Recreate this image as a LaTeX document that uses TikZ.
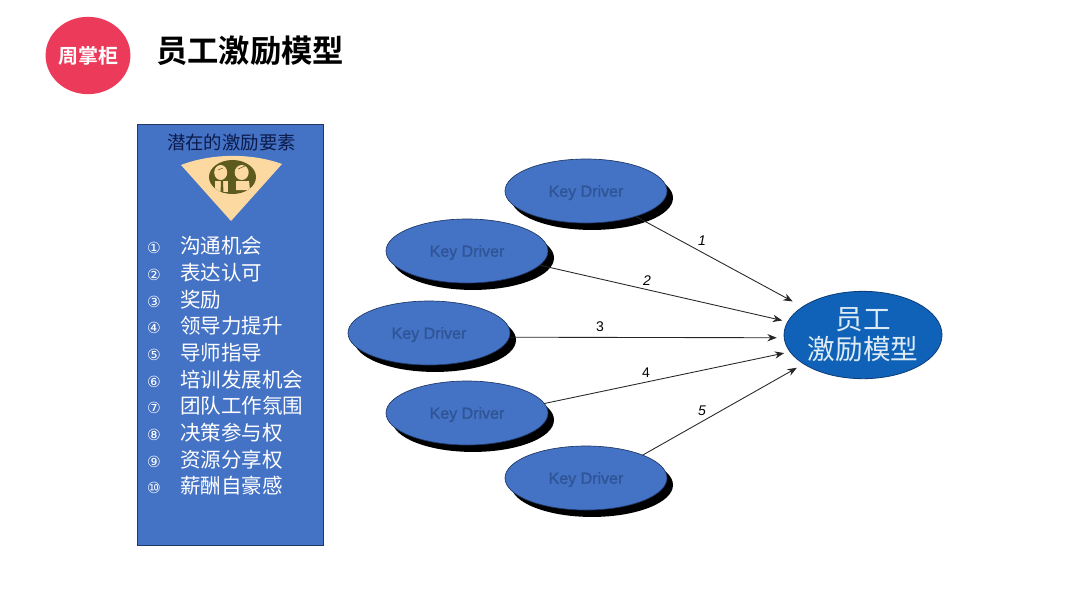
\documentclass[tikz,border=0pt]{standalone}
\usepackage{fontspec}
\setmainfont{Liberation Sans}
\newfontfamily\cjk{Noto Sans CJK SC}
\newfontfamily\cjkb{Noto Sans CJK SC}[BoldFont={Noto Sans CJK SC Bold}]
\newfontfamily\numf{DejaVu Sans}
\newfontfamily\kdfont{Liberation Sans}[FakeBold=1.2]
\usetikzlibrary{shapes.geometric,shadows,arrows.meta}
\definecolor{panelblue}{HTML}{4472C4}
\definecolor{paneledge}{HTML}{1F3864}
\definecolor{drivertext}{HTML}{2F5597}
\definecolor{hubblue}{HTML}{0F62B8}
\definecolor{hubedge}{HTML}{0B3C78}
\definecolor{hubtext}{HTML}{DDEBF5}
\definecolor{logored}{HTML}{EC3A5A}
\definecolor{fancream}{HTML}{FBD9A0}
\definecolor{fanolive}{HTML}{5C5A1E}
\definecolor{headnavy}{HTML}{0D1B4C}
\newcommand{\kd}{\raisebox{0pt}[8.6pt][0pt]{Key Driver}}
\tikzset{
  x=0.75pt,y=-0.75pt,
  driver/.style={ellipse,draw=paneledge,line width=0.5pt,fill=panelblue,minimum width=121.5pt,minimum height=48pt,inner sep=0pt,outer sep=0pt,
    text=drivertext,font=\kdfont\fontsize{12}{14}\selectfont,
    drop shadow={shadow xshift=4.5pt,shadow yshift=-5.2pt,fill=black,opacity=1}},
  link/.style={draw=black!85,line width=0.65pt,-{Stealth[length=7pt,width=5.5pt]}},
  linklabel/.style={inner sep=0pt,font=\fontsize{10.5}{12}\selectfont,text=black},
  slanted label/.style={linklabel,font=\itshape\fontsize{10.5}{12}\selectfont},
  listitem/.style={anchor=west,inner sep=0pt,text=white,font=\cjk\fontsize{15.4}{18}\selectfont},
  listnum/.style={inner sep=0pt,text=white,font=\numf\fontsize{11.5}{13}\selectfont},
}
\begin{document}
\begin{tikzpicture}
\useasboundingbox (0,0) rectangle (1080,608);
\fill[white] (0,0) rectangle (1080,608);
% header
\node[ellipse,fill=logored,minimum width=62.5pt,minimum height=58pt,inner sep=0pt,text=white,font=\cjkb\bfseries\fontsize{15}{18}\selectfont] (logo) at (88,55.5) {周掌柜};
\node[anchor=west,inner sep=0pt,font=\cjkb\bfseries\fontsize{23.5}{28}\selectfont,text=black] (title) at (156,51) {员工激励模型};
% panel
\node[rectangle,draw=paneledge,line width=0.6pt,fill=panelblue,minimum width=139.5pt,minimum height=316pt,inner sep=0pt,anchor=north west] (panel) at (137,123.5) {};
\node[inner sep=0pt,text=headnavy,font=\cjk\fontsize{13.8}{16}\selectfont] (paneltitle) at (231.5,143) {潜在的激励要素};
% fan icon
\fill[fancream] (181,165) .. controls (212,153) and (252,153) .. (282,164) -- (231,221) -- cycle;
\begin{scope}
\fill[fanolive] (232.5,177) ellipse (23.5 and 17);
\clip (232.5,177) ellipse (23.5 and 17);
\fill[fancream] (220.7,172.5) ellipse (6.5 and 7.5);
\fill[fancream] (241.7,172.5) ellipse (7 and 7.5);
\fill[fancream] (215,181) -- (228,181) -- (228,192) -- (215,192) -- cycle;
\fill[fancream] (236,181) -- (249,181) -- (250,190) -- (236,190) -- cycle;
\fill[fanolive] (221,181) -- (223,181) -- (223.5,194) -- (220.5,194) -- cycle;
\draw[fanolive,line width=0.4pt] (238,169) -- (245,166);
\draw[fanolive,line width=0.4pt] (218,170) -- (223,168);
\end{scope}
% list
\foreach \n/\t/\yy in {1/沟通机会/246,2/表达认可/273,3/奖励/300,4/领导力提升/326,5/导师指导/353,6/培训发展机会/380,7/团队工作氛围/406,8/决策参与权/433,9/资源分享权/460,10/薪酬自豪感/486}{
  \node[listitem] (item\n) at (180,\yy) {\t};
}
\node[listnum] (num1) at (154,247.5) {①};
\node[listnum] (num2) at (154,274.5) {②};
\node[listnum] (num3) at (154,301.5) {③};
\node[listnum] (num4) at (154,328) {④};
\node[listnum] (num5) at (154,354.5) {⑤};
\node[listnum] (num6) at (154,381.5) {⑥};
\node[listnum] (num7) at (154,408) {⑦};
\node[listnum] (num8) at (154,435) {⑧};
\node[listnum] (num9) at (154,462) {⑨};
\node[listnum] (num10) at (154,488) {⑩};
% drivers
\node[driver] (d1) at (586,191) {\kd};
\node[driver] (d2) at (467,251) {\kd};
\node[driver] (d3) at (429,333) {\kd};
\node[driver] (d4) at (467,413) {\kd};
\node[driver] (d5) at (586,478) {\kd};
% hub
\node[ellipse,draw=hubedge,line width=0.6pt,fill=hubblue,minimum width=118.5pt,minimum height=65.5pt,inner sep=0pt,outer sep=0pt,align=center,text=hubtext,font=\cjk\fontsize{20.7}{22.5}\selectfont] (hub) at (863,335) {员工\\激励模型};
% connectors
\draw[link,shorten >=8.5pt] (d1.-27.6) -- (hub.155.8);
\draw[link,shorten >=4.3pt] (d2.-11) -- (hub.170.4);
\draw[link,shorten >=5.6pt] (d3.-3.2) -- (hub.182);
\draw[link,shorten >=4.6pt] (d4.7) -- (hub.193.3);
\draw[link,shorten >=6pt] (d5.22.5) -- (hub.206);
% labels
\node[slanted label] (l1) at (702,241) {1};
\node[slanted label] (l2) at (647,281) {2};
\node[linklabel] (l3) at (600,327) {3};
\node[linklabel] (l4) at (646,372.5) {4};
\node[slanted label] (l5) at (702,411) {5};
\end{tikzpicture}
\end{document}
